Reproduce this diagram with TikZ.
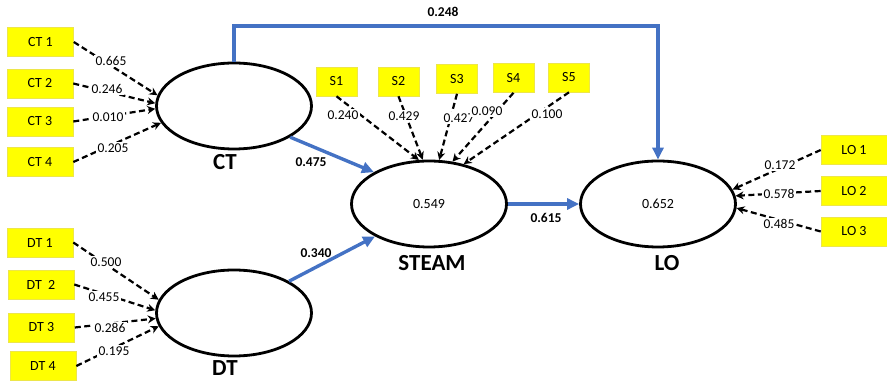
\documentclass[tikz,border=0pt]{standalone}
\usepackage{fontspec}
\setmainfont{Carlito}
\usetikzlibrary{arrows.meta,shapes.geometric}
\definecolor{pathblue}{HTML}{4472C4}
\definecolor{boxyellow}{HTML}{FFFF00}
\definecolor{boxedge}{HTML}{EDE64A}
\begin{document}
\begin{tikzpicture}[x=1pt,y=-1pt,
  ind/.style={rectangle, fill=boxyellow, draw=boxedge, line width=0.6pt, minimum width=66pt, minimum height=29pt, inner sep=0pt, font=\fontsize{14}{16}\selectfont},
  sind/.style={ind, minimum width=41pt},
  latent/.style={ellipse, draw=black, line width=2.8pt, minimum width=155pt, minimum height=86pt, inner sep=0pt, font=\fontsize{14}{16}\selectfont},
  lname/.style={font=\fontsize{23}{25}\selectfont\bfseries},
  load/.style={dash pattern=on 6pt off 3.5pt, line width=2.2pt, -{Stealth[length=8pt,width=8pt]}},
  lbl/.style={fill=white, inner sep=1.5pt, font=\fontsize{13.5}{15}\selectfont},
  coef/.style={inner sep=1pt, font=\fontsize{13.5}{15}\selectfont\bfseries},
  pathl/.style={draw=pathblue, line width=3.4pt, -{Triangle[length=12pt,width=11pt]}}
]
\useasboundingbox (0,0) rectangle (887,382);

% latent variables
\node[latent] (ct) at (234,106) {};
\node[latent] (dt) at (234,313) {};
\node[latent] (steam) at (429,204) {0.549};
\node[latent] (lo) at (658,204) {0.652};
\node[lname] (ctn) at (225,162) {CT};
\node[lname] (dtn) at (225,368) {DT};
\node[lname] (steamn) at (432,263) {STEAM};
\node[lname] (lon) at (667,263) {LO};

% indicators
\node[ind] (ct1) at (40.5,42) {CT 1};
\node[ind] (ct2) at (40,83.5) {CT 2};
\node[ind] (ct3) at (40,121.5) {CT 3};
\node[ind] (ct4) at (40,162) {CT 4};
\node[ind] (dt1) at (40,242.5) {DT 1};
\node[ind] (dt2) at (41,284.5) {DT\ \ 2};
\node[ind] (dt3) at (41.5,327.5) {DT 3};
\node[ind] (dt4) at (43,366) {DT 4};
\node[sind] (s1) at (336.5,81.5) {S1};
\node[sind] (s2) at (398.5,81.5) {S2};
\node[sind] (s3) at (457,79) {S3};
\node[sind] (s4) at (513.5,78) {S4};
\node[sind] (s5) at (569,77.5) {S5};
\node[ind] (lo1) at (854,150) {LO 1};
\node[ind] (lo2) at (854,191) {LO 2};
\node[ind] (lo3) at (854,231.5) {LO 3};

% loadings
\draw[load] (ct1.east) -- (ct.172);
\draw[load] (ct2.east) -- (ct.178);
\draw[load] (ct3.east) -- (ct.182);
\draw[load] (ct4.east) -- (ct.193);
\draw[load] (dt1.east) -- (dt.170);
\draw[load] (dt2.east) -- (dt.178.5);
\draw[load] (dt3.east) -- (dt.184);
\draw[load] (dt4.east) -- (dt.190);
\draw[load] (s1.south) -- (steam.103);
\draw[load] (s2.south) -- (steam.98);
\draw[load] (s3.south) -- (steam.77);
\draw[load] (s4.south) -- (steam.61);
\draw[load] (s5.south) -- (steam.49.5);
\draw[load] (lo1.west) -- (lo.11.7);
\draw[load] (lo2.west) -- (lo.6.7);
\draw[load] (lo3.west) -- (lo.-3);

\node[lbl] (l1) at (111,61) {0.665};
\node[lbl] (l2) at (107,89) {0.246};
\node[lbl] (l3) at (108,117) {0.010};
\node[lbl] (l4) at (113,148) {0.205};
\node[lbl] (l5) at (106,262) {0.500};
\node[lbl] (l6) at (104,297) {0.455};
\node[lbl] (l7) at (110,328) {0.286};
\node[lbl] (l8) at (114,351) {0.195};
\node[lbl] (l9) at (343,115) {0.240};
\node[lbl] (l10) at (404,116) {0.429};
\node[lbl] (l11) at (459,118) {0.427};
\node[lbl] (l12) at (487,111) {0.090};
\node[lbl] (l13) at (547,114) {0.100};
\node[lbl] (l14) at (780,165) {0.172};
\node[lbl] (l15) at (779,194) {0.578};
\node[lbl] (l16) at (779,224) {0.485};

% structural paths
\coordinate (topl) at (234,26);
\draw[pathl] (ct.north) -- (topl) -| (lo.north);
\node[coef] (c1) at (443,12) {0.248};
\draw[pathl] (ct.-29) -- (steam.150.6);
\node[coef] (c2) at (311,162) {0.475};
\draw[pathl] (dt.30.3) -- (steam.211);
\node[coef] (c3) at (316,253) {0.340};
\draw[pathl] (steam.east) -- (lo.west);
\node[coef] (c4) at (546,218) {0.615};
\end{tikzpicture}
\end{document}
